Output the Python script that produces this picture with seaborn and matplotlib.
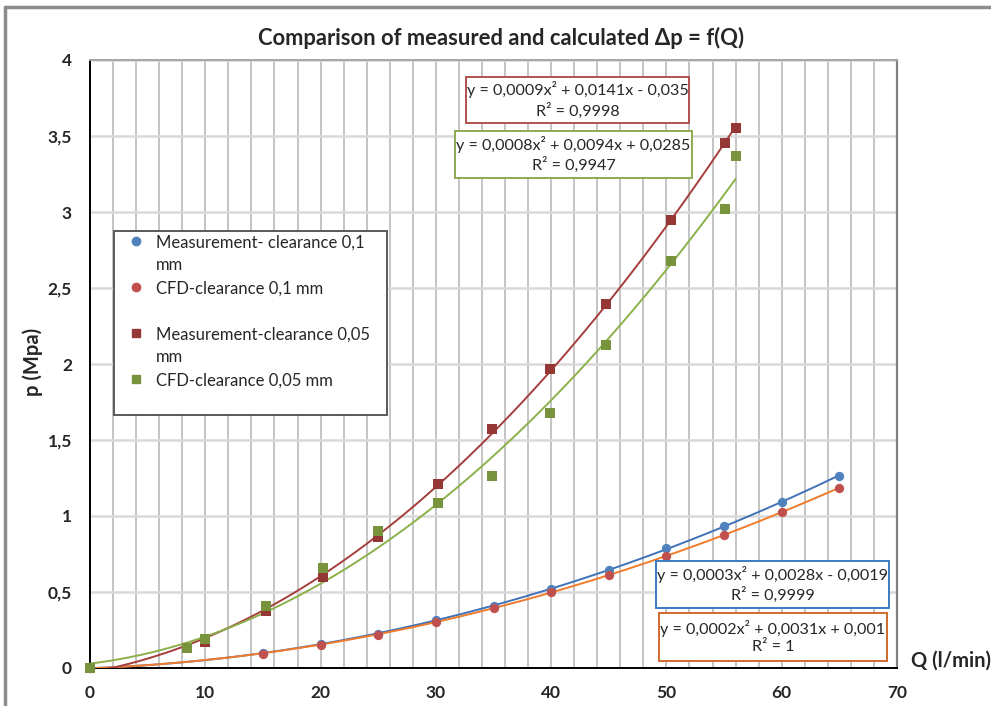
import numpy as np
import pandas as pd
import matplotlib
matplotlib.use("Agg")
import matplotlib.pyplot as plt
from matplotlib.lines import Line2D
from matplotlib.patches import Rectangle
from matplotlib.ticker import MultipleLocator, FixedLocator, FuncFormatter
import seaborn as sns

# Flow rate Q (l/min) and pressure drop p (MPa) -- clearance 0.1 mm
q_01 = [0, 15, 20, 25, 30, 35, 40, 45, 50, 55, 60, 65]
p_meas_01 = [0, 0.10, 0.155, 0.225, 0.315, 0.41, 0.52, 0.645, 0.79, 0.935, 1.09, 1.265]
p_cfd_01 = [0, 0.095, 0.15, 0.22, 0.305, 0.395, 0.50, 0.612, 0.737, 0.875, 1.026, 1.185]

# clearance 0.05 mm
q_meas_005 = [0, 10, 15.3, 20.2, 25, 30.2, 34.9, 39.9, 44.8, 50.4, 55.1, 56.0]
p_meas_005 = [0, 0.17, 0.375, 0.60, 0.865, 1.21, 1.575, 1.97, 2.395, 2.945, 3.455, 3.55]
q_cfd_005 = [0, 8.4, 10, 15.3, 20.2, 25, 30.2, 34.9, 39.9, 44.8, 50.4, 55.1, 56.0]
p_cfd_005 = [0, 0.13, 0.19, 0.41, 0.655, 0.90, 1.085, 1.265, 1.68, 2.125, 2.68, 3.02, 3.37]

# legend text, wrapped the way the legend box wraps it
labels = [
    ["Measurement- clearance 0,1", "mm"],
    ["CFD-clearance 0,1 mm"],
    ["Measurement-clearance 0,05", "mm"],
    ["CFD-clearance 0,05 mm"],
]

eq_meas_01 = "y = 0,0003x² + 0,0028x - 0,0019\nR² = 0,9999"
eq_cfd_01 = "y = 0,0002x² + 0,0031x + 0,001\nR² = 1"
eq_meas_005 = "y = 0,0009x² + 0,0141x - 0,035\nR² = 0,9998"
eq_cfd_005 = "y = 0,0008x² + 0,0094x + 0,0285\nR² = 0,9947"

x_ticks = [0, 10, 20, 30, 40, 50, 60, 70]
y_ticks = [0, 0.5, 1, 1.5, 2, 2.5, 3, 3.5, 4]

sns.set_style("white")
plt.rcParams["font.family"] = ["Lato", "DejaVu Sans"]

W, H = 991, 706
fig = plt.figure(figsize=(W / 100, H / 100), dpi=100)


def fx(px):
    return px / W


def fy(py):
    return 1 - py / H


ax = fig.add_axes([fx(90), fy(668), fx(897) - fx(90), fy(60) - fy(668)])
ax.set_xlim(0, 70)
ax.set_ylim(0, 4)

# grid: minor verticals every 2, horizontals every 0.5
ax.xaxis.set_major_locator(FixedLocator(x_ticks))
ax.xaxis.set_minor_locator(MultipleLocator(2))
ax.yaxis.set_major_locator(FixedLocator(y_ticks))
ax.grid(which="minor", axis="x", color="#BFBFBF", lw=1.3, zorder=0)
ax.grid(which="major", axis="x", color="#BFBFBF", lw=1.3, zorder=0)
ax.grid(which="major", axis="y", color="#D9D9D9", lw=1.8, zorder=0)
ax.set_axisbelow(True)

c_blue = "#4F81BD"
c_blue_line = "#3F72B8"
c_red = "#C0504D"
c_orange = "#F07B2A"
c_dred = "#953735"
c_dred_line = "#A53E3C"
c_green = "#77933C"
c_green_line = "#8CB04A"

series = [
    (q_01, p_meas_01, c_blue, c_blue_line, "o", 45),
    (q_01, p_cfd_01, c_red, c_orange, "o", 45),
    (q_meas_005, p_meas_005, c_dred, c_dred_line, "s", 50),
    (q_cfd_005, p_cfd_005, c_green, c_green_line, "s", 50),
]

for q, p, mc, lc, mk, s in series:
    df = pd.DataFrame({"Q": q, "p": p})
    sns.regplot(data=df, x="Q", y="p", order=2, ci=None, scatter=False,
                line_kws={"color": lc, "lw": 1.4, "zorder": 3}, ax=ax)
    sns.scatterplot(data=df, x="Q", y="p", color=mc, marker=mk, s=s,
                    linewidth=0, zorder=4, ax=ax, clip_on=False)

ax.set_xlabel("")
ax.set_ylabel("")

# axes frame
for side in ["left", "bottom"]:
    ax.spines[side].set_color("#000000")
    ax.spines[side].set_linewidth(1.4)
ax.spines["right"].set_color("#808080")
ax.spines["right"].set_linewidth(1.6)
ax.spines["top"].set_color("#A6A6A6")
ax.spines["top"].set_linewidth(1.4)

fmt = FuncFormatter(lambda v, _: ("%g" % v).replace(".", ","))
ax.yaxis.set_major_formatter(fmt)
ax.xaxis.set_major_formatter(fmt)
ax.tick_params(axis="both", which="both", length=0)
ax.tick_params(axis="x", pad=12, labelsize=12.5)
ax.tick_params(axis="y", pad=13, labelsize=12.5)
for t in ax.get_xticklabels() + ax.get_yticklabels():
    t.set_fontweight("bold")

# titles and axis labels
fig.text(fx(501), fy(38), "Comparison of measured and calculated Δp = f(Q)",
         ha="center", va="center", fontsize=15.8, fontweight="bold")
fig.text(fx(33), fy(362), "p (Mpa)", rotation=90, ha="center", va="center",
         fontsize=14.5, fontweight="bold")
fig.text(fx(911), fy(661), "Q (l/min)", ha="left", va="center",
         fontsize=14.5, fontweight="bold")

# legend: one row per text line, marker on the first line of each entry,
# and an empty row between the two clearance groups
marker_specs = [("o", c_blue), ("o", c_red), ("s", c_dred), ("s", c_green)]
handles, leg_labels = [], []
for i, ((mk, col), lines) in enumerate(zip(marker_specs, labels)):
    for j, line in enumerate(lines):
        if j == 0:
            handles.append(Line2D([], [], ls="none", marker=mk, color=col, ms=6))
        else:
            handles.append(Line2D([], [], ls="none", marker=None))
        leg_labels.append(line)
    if i in (1, 3):
        handles.append(Line2D([], [], ls="none", marker=None))
        leg_labels.append(" ")

leg = fig.legend(handles, leg_labels, loc="upper left",
                 bbox_to_anchor=(fx(114), fy(411), fx(387) - fx(114), fy(231) - fy(411)),
                 mode="expand", frameon=True,
                 fancybox=False, framealpha=1, edgecolor="#595959",
                 fontsize=12, handlelength=2.2, handletextpad=0.1,
                 labelspacing=0.42, borderpad=0.2, borderaxespad=0)
leg.get_frame().set_linewidth(1.4)

# trendline equation boxes
boxes = [
    (eq_meas_005, 466, 77, 689, 123, "#B0504E"),
    (eq_cfd_005, 455, 131, 692, 178, "#8DAA50"),
    (eq_meas_01, 656, 561, 889, 608, "#3A7CC4"),
    (eq_cfd_01, 659, 613, 887, 661, "#D06A2C"),
]
for txt, x0, y0, x1, y1, ec in boxes:
    fig.add_artist(Rectangle((fx(x0), fy(y1)), fx(x1) - fx(x0), fy(y0) - fy(y1),
                             transform=fig.transFigure, facecolor="white",
                             edgecolor=ec, lw=1.4, zorder=5))
    fig.text(fx((x0 + x1) / 2), fy((y0 + y1) / 2), txt, ha="center", va="center",
             fontsize=11.6, linespacing=1.3, zorder=6)

# outer chart frame
fig.add_artist(Line2D([fx(5), 1], [fy(7), fy(7)], transform=fig.transFigure,
                      color="#8C8C8C", lw=2.5))
fig.add_artist(Line2D([fx(5), fx(5)], [fy(7), 0], transform=fig.transFigure,
                      color="#8C8C8C", lw=2.5))

fig.savefig("out.png", dpi=100)
